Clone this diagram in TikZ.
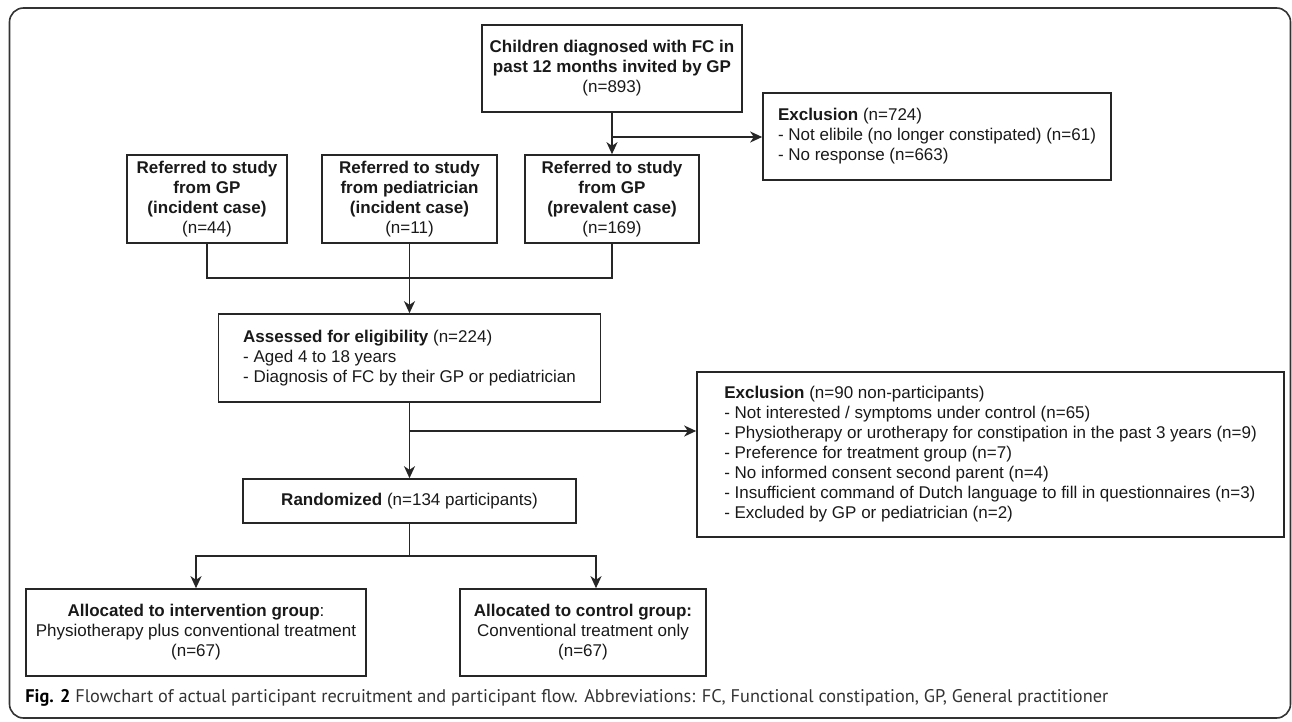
\documentclass[tikz,border=0pt]{standalone}
\usepackage{fontspec}
\setmainfont{Liberation Sans}
\newfontfamily\capfont{PT Sans}
\usetikzlibrary{arrows.meta,calc}

\begin{document}
\begin{tikzpicture}[x=0.5pt,y=-0.5pt]
  \tikzstyle{stage} = [rectangle, draw=black!85, line width=0.8pt, align=center, inner sep=0pt, text=black!90, font=\fontsize{8.5}{10}\selectfont]
  \tikzstyle{listing} = [stage, align=left]
  \tikzstyle{flow} = [draw=black!85, line width=0.8pt]
  \tikzstyle{arr} = [flow, -{Stealth[length=6pt,width=5.5pt,inset=1.8pt]}]

  \useasboundingbox (0,0) rectangle (1292,722);
  \draw[black!80, line width=0.8pt, rounded corners=7pt] (9.5,8) rectangle (1290.5,718);

  \node[stage, minimum width=130pt, minimum height=43.5pt] (invited) at (612,68.5)
    {\textbf{Children diagnosed with FC in}\\\textbf{past 12 months invited by GP}\\(n=893)};
  \node[listing, minimum width=174pt, minimum height=43.5pt] (exclA) at (937,136.5)
    {\textbf{Exclusion} (n=724)\\- Not elibile (no longer constipated) (n=61)\\- No response (n=663)};

  \node[stage, minimum width=80pt, minimum height=44pt] (gpInc) at (207,199)
    {\textbf{Referred to study}\\\textbf{from GP}\\\textbf{(incident case)}\\(n=44)};
  \node[stage, minimum width=87.5pt, minimum height=44pt] (pedInc) at (409.5,199)
    {\textbf{Referred to study}\\\textbf{from pediatrician}\\\textbf{(incident case)}\\(n=11)};
  \node[stage, minimum width=87pt, minimum height=44pt] (gpPrev) at (612,199)
    {\textbf{Referred to study}\\\textbf{from GP}\\\textbf{(prevalent case)}\\(n=169)};

  \node[listing, minimum width=191pt, minimum height=44pt] (assessed) at (409.5,358)
    {\textbf{Assessed for eligibility} (n=224)\\- Aged 4 to 18 years\\- Diagnosis of FC by their GP or pediatrician};
  \node[listing, minimum width=293.5pt, minimum height=82.5pt] (exclB) at (990.5,454.5)
    {\textbf{Exclusion} (n=90 non-participants)\\
     - Not interested / symptoms under control (n=65)\\
     - Physiotherapy or urotherapy for constipation in the past 3 years (n=9)\\
     - Preference for treatment group (n=7)\\
     - No informed consent second parent (n=4)\\
     - Insufficient command of Dutch language to fill in questionnaires (n=3)\\
     - Excluded by GP or pediatrician (n=2)};

  \node[stage, minimum width=166.5pt, minimum height=22pt] (rand) at (409.5,501)
    {\textbf{Randomized} (n=134 participants)};
  \node[stage, minimum width=170pt, minimum height=43.5pt] (allocInt) at (196,632.5)
    {\textbf{Allocated to intervention group}:\\Physiotherapy plus conventional treatment\\(n=67)};
  \node[stage, minimum width=123pt, minimum height=43.5pt] (allocCtl) at (583,632.5)
    {\textbf{Allocated to control group:}\\Conventional treatment only\\(n=67)};

  \coordinate (splitA) at (612,137);
  \coordinate (merge) at (409.5,278);
  \coordinate (splitB) at (409.5,431);
  \coordinate (fork) at (409.5,556);

  \draw[arr] (invited) -- (gpPrev);
  \draw[arr] (splitA) -- (splitA -| exclA.west);
  \draw[flow] (gpInc.south) |- (merge) -| (gpPrev.south);
  \draw[arr] (pedInc) -- (assessed);
  \draw[arr] (assessed) -- (rand);
  \draw[arr] (splitB) -- (splitB -| exclB.west);
  \draw[flow] (rand) -- (fork);
  \draw[arr] (fork) -| (allocInt.north);
  \draw[arr] (fork) -| ([xshift=6.5pt]allocCtl.north);

  \node[anchor=base west, inner sep=0pt, text=black!80, font=\capfont\fontsize{9.15}{11}\selectfont] (caption) at (25,702)
    {\textcolor{black}{\textbf{Fig. 2}} Flowchart of actual participant recruitment and participant flow. Abbreviations: FC, Functional constipation, GP, General practitioner};
\end{tikzpicture}
\end{document}
